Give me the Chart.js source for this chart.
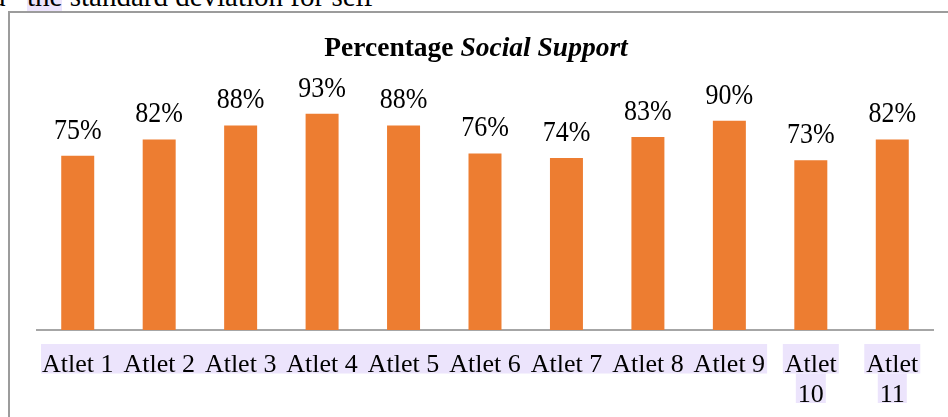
<!DOCTYPE html>
<html>
<head>
<meta charset="utf-8">
<script src="https://cdn.jsdelivr.net/npm/chart.js@4.4.1/dist/chart.umd.min.js"></script>
<style>
  html, body { margin: 0; padding: 0; background: #fff; overflow: hidden; }
  #wrap { position: relative; width: 948px; height: 417px; overflow: hidden; }
  #frame { position: absolute; left: 8px; top: 11px; width: 980px; height: 440px;
           border-left: 2px solid #9c9c9c; border-top: 2px solid #9c9c9c; }
  #txt { position: absolute; top: -18px; left: 0; font: 29px "Liberation Serif"; line-height: 29px; white-space: nowrap; }
  #txt span { position: absolute; top: 0; }
  .hl { background: #ece4fc; }
  canvas { position: absolute; left: 0; top: 0; }
</style>
</head>
<body>
<div id="wrap">
  <div id="txt"><span style="left:-9px">d</span><span style="left:27px"><span class="hl" style="position:static">the</span> standard deviation for self</span></div>
  <div id="frame"></div>
  <canvas id="chart" width="948" height="417"></canvas>
</div>
<script>
const categories = ['Atlet 1', 'Atlet 2', 'Atlet 3', 'Atlet 4', 'Atlet 5', 'Atlet 6',
                    'Atlet 7', 'Atlet 8', 'Atlet 9', 'Atlet 10', 'Atlet 11'];
const tickLabels = ['Atlet 1', 'Atlet 2', 'Atlet 3', 'Atlet 4', 'Atlet 5', 'Atlet 6',
                    'Atlet 7', 'Atlet 8', 'Atlet 9', ['Atlet', '10'], ['Atlet', '11']];
const values = [75, 82, 88, 93, 88, 76, 74, 83, 90, 73, 82];

const labelFont = '26px "Liberation Serif"';

// lavender highlight behind the axis labels (copied from a Word doc)
const highlight = {
    id: 'highlight',
    beforeDraw(chart) {
        const { ctx } = chart;
        const x = chart.scales.x;
        ctx.save();
        ctx.font = labelFont;
        ctx.fillStyle = '#ece4fc';
        let run = null;
        tickLabels.forEach((lbl, i) => {
            const lines = Array.isArray(lbl) ? lbl : [lbl];
            const cx = x.getPixelForTick(i);
            lines.forEach((line, k) => {
                const w = ctx.measureText(line).width;
                const top = x.top + 14 + k * 29.5;
                if (lines.length === 1) {
                    if (run) {
                        run.right = cx + w / 2 + 2;
                    } else {
                        run = { left: cx - w / 2 - 1, right: cx + w / 2 + 2, top };
                    }
                    return;
                }
                ctx.fillRect(cx - w / 2 - 2, top, w + 4, 29.5);
            });
            if (lines.length > 1 && run) {
                ctx.fillRect(run.left, run.top, run.right - run.left, 29.5);
                run = null;
            }
        });
        if (run) ctx.fillRect(run.left, run.top, run.right - run.left, 29.5);
        ctx.restore();
    }
};

// value labels look a bit stretched vertically in the source picture
const valueLabels = {
    id: 'valueLabels',
    afterDatasetsDraw(chart) {
        const { ctx } = chart;
        ctx.save();
        ctx.font = labelFont;
        ctx.fillStyle = '#000';
        ctx.textAlign = 'center';
        ctx.textBaseline = 'alphabetic';
        chart.getDatasetMeta(0).data.forEach((bar, i) => {
            ctx.save();
            ctx.translate(bar.x, bar.y - 17);
            ctx.scale(1, 1.14);
            ctx.fillText(values[i] + '%', 0, 0);
            ctx.restore();
        });
        ctx.restore();
    }
};

const titlePlugin = {
    id: 'mixedTitle',
    afterDraw(chart) {
        const { ctx } = chart;
        const a = 'Percentage ', b = 'Social Support';
        const size = 27.5;
        ctx.save();
        ctx.fillStyle = '#000';
        ctx.textBaseline = 'alphabetic';
        ctx.font = `bold ${size}px "Liberation Serif"`;
        const wa = ctx.measureText(a).width;
        ctx.font = `italic bold ${size}px "Liberation Serif"`;
        const wb = ctx.measureText(b).width;
        const x0 = 476 - (wa + wb) / 2;
        ctx.font = `bold ${size}px "Liberation Serif"`;
        ctx.fillText(a, x0, 56);
        ctx.font = `italic bold ${size}px "Liberation Serif"`;
        ctx.fillText(b, x0 + wa, 56);
        ctx.restore();
    }
};

new Chart(document.getElementById('chart'), {
    type: 'bar',
    data: {
        labels: tickLabels,
        datasets: [{
            label: 'Percentage Social Support',
            data: values,
            backgroundColor: '#ED7D31',
            categoryPercentage: 1,
            barPercentage: 0.405,
        }],
    },
    options: {
        responsive: false,
        animation: false,
        layout: { padding: { top: 97.6, left: 37, right: 15, bottom: 0 } },
        plugins: {
            legend: { display: false },
            tooltip: { enabled: false },
        },
        scales: {
            x: {
                grid: { display: false },
                border: { display: true, color: '#a6a6a6', width: 2 },
                ticks: {
                    color: '#000',
                    font: { family: 'Liberation Serif', size: 26, lineHeight: 1.15 },
                    padding: 12,
                    maxRotation: 0,
                    autoSkip: false,
                },
                afterFit(scale) { scale.height = 87; },
            },
            y: { display: false, min: 0, max: 100 },
        },
    },
    plugins: [highlight, valueLabels, titlePlugin],
});
</script>
</body>
</html>
